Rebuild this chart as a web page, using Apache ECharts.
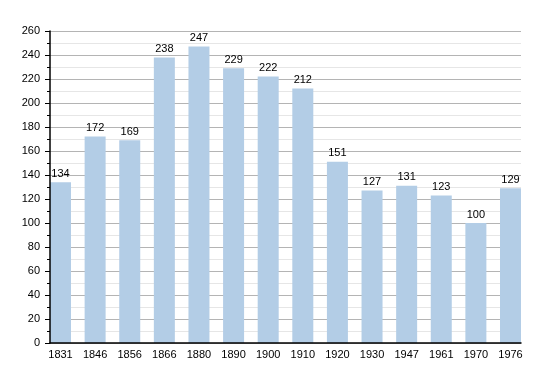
<!DOCTYPE html>
<html><head><meta charset="utf-8">
<script src="https://cdn.jsdelivr.net/npm/echarts@6/dist/echarts.min.js"></script>
<style>html,body{margin:0;padding:0;background:#fff}#c{width:550px;height:373px}</style>
</head><body><div id="c"></div>
<script>
var years = ['1831','1846','1856','1866','1880','1890','1900','1910','1920','1930','1947','1961','1970','1976'];
var population = [134,172,169,238,247,229,222,212,151,127,131,123,100,129];
var yMin = 0, yMax = 260, yStep = 20;

var chart = echarts.init(document.getElementById('c'));
var font = 'Liberation Sans, Arial, sans-serif';
chart.setOption({
  animation: false,
  backgroundColor: '#fff',
  grid: [
    {left: 50, right: 29, top: 31, bottom: 30},
    {left: 43.2, right: 22.2, top: 31, bottom: 30}
  ],
  xAxis: [
    {gridIndex: 0, type: 'value', min: 0, max: 1, axisLabel: {show: false}, axisTick: {show: false},
     splitLine: {show: false}, axisLine: {show: true, lineStyle: {color: '#000', width: 1.5}}, z: 10},
    {gridIndex: 1, type: 'category', data: years, axisLine: {show: false}, axisTick: {show: false},
     axisLabel: {color: '#000', fontSize: 11, fontFamily: font, margin: 6}}
  ],
  yAxis: [
    {gridIndex: 0, type: 'value', min: yMin, max: yMax, interval: yStep, z: 0,
     axisLine: {show: false}, axisTick: {show: false}, axisLabel: {show: false},
     splitLine: {show: true, lineStyle: {color: '#b4b4b4', width: 1}},
     minorTick: {show: false, splitNumber: 2},
     minorSplitLine: {show: true, lineStyle: {color: '#e6e6e6', width: 1}}},
    {gridIndex: 1, type: 'value', min: yMin, max: yMax, interval: yStep, show: false},
    {gridIndex: 0, type: 'value', min: yMin, max: yMax, interval: yStep, position: 'left', z: 10,
     axisLine: {show: true, lineStyle: {color: '#000', width: 1.5}},
     axisTick: {show: true, length: 5, lineStyle: {color: '#000'}},
     minorTick: {show: true, splitNumber: 2, length: 3, lineStyle: {color: '#000'}},
     axisLabel: {color: '#000', fontSize: 11, fontFamily: font, margin: 10},
     splitLine: {show: false}, minorSplitLine: {show: false}}
  ],
  series: [{
    type: 'bar', xAxisIndex: 1, yAxisIndex: 1, data: population, barWidth: 21, z: 2,
    itemStyle: {color: '#b3cde6'},
    label: {show: true, position: 'top', distance: 3, color: '#000', fontSize: 11, fontFamily: font}
  }]
});
</script></body></html>
